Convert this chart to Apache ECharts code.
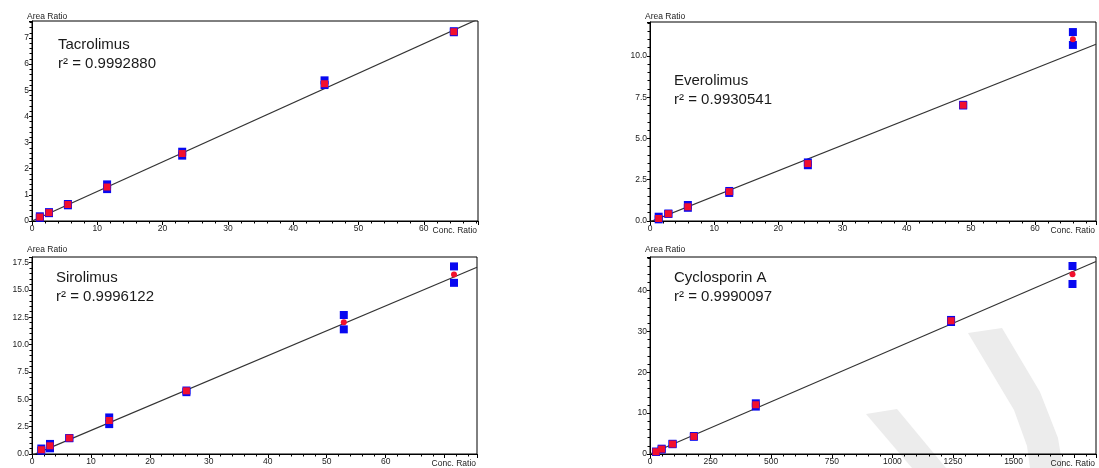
<!DOCTYPE html>
<html>
<head>
<meta charset="utf-8">
<script src="https://cdn.jsdelivr.net/npm/echarts@6/dist/echarts.min.js"></script>
<style>
html,body{margin:0;padding:0;background:#fff;}
#c{width:1099px;height:468px;}
</style>
</head>
<body>
<div id="c"></div>
<script>
// ---------- DATA ----------
// Tacrolimus
const tacNames = ['Tacrolimus', 'r\u00B2 = 0.9992880'];
const tacX     = [1.2, 2.6, 5.5, 11.5, 23.0, 44.8, 64.6];
const tacRep1  = [0.12, 0.30, 0.60, 1.40, 2.65, 5.38, 7.22];
const tacRep2  = [0.18, 0.34, 0.65, 1.22, 2.50, 5.20, 7.26];
const tacMean  = [0.15, 0.32, 0.63, 1.30, 2.58, 5.25, 7.24];
const tacCircleIdx = [];
const tacFit   = [[0, 0.0], [68.3, 7.72]];
const tacXTicks = ['0','10','20','30','40','50','60'];
const tacYTicks = ['0','1','2','3','4','5','6','7'];

// Everolimus
const eveNames = ['Everolimus', 'r\u00B2 = 0.9930541'];
const eveX     = [1.35, 2.86, 5.9, 12.35, 24.6, 48.8, 65.9];
const eveRep1  = [0.26, 0.43, 0.97, 1.70, 3.38, 7.00, 11.45];
const eveRep2  = [0.10, 0.45, 0.80, 1.82, 3.55, 7.04, 10.67];
const eveMean  = [0.15, 0.44, 0.86, 1.78, 3.48, 7.02, 11.01];
const eveCircleIdx = [6];
const eveFit   = [[0, -0.05], [69.5, 10.71]];
const eveXTicks = ['0','10','20','30','40','50','60'];
const eveYTicks = ['0.0','2.5','5.0','7.5','10.0'];

// Sirolimus
const sirNames = ['Sirolimus', 'r\u00B2 = 0.9996122'];
const sirX     = [1.58, 3.05, 6.33, 13.1, 26.2, 52.9, 71.6];
const sirRep1  = [0.50, 0.92, 1.46, 3.34, 5.80, 12.70, 17.14];
const sirRep2  = [0.30, 0.52, 1.44, 2.73, 5.65, 11.39, 15.64];
const sirMean  = [0.39, 0.75, 1.46, 3.06, 5.77, 12.03, 16.41];
const sirCircleIdx = [5, 6];
const sirFit   = [[0, -0.13], [75.5, 17.07]];
const sirXTicks = ['0','10','20','30','40','50','60'];
const sirYTicks = ['0.0','2.5','5.0','7.5','10.0','12.5','15.0','17.5'];

// Cyclosporin A
const cycNames = ['Cyclosporin A', 'r\u00B2 = 0.9990097'];
const cycX     = [24.7, 48, 93, 181, 436.6, 1242, 1743];
const cycRep1  = [0.50, 1.30, 2.50, 4.40, 11.60, 32.30, 46.00];
const cycRep2  = [0.60, 1.10, 2.40, 4.20, 12.40, 32.80, 41.60];
const cycMean  = [0.56, 1.20, 2.44, 4.30, 12.05, 32.60, 44.00];
const cycCircleIdx = [6];
const cycFit   = [[0, 0.0], [1840, 47.1]];
const cycXTicks = ['0','250','500','750','1000','1250','1500'];
const cycYTicks = ['0','10','20','30','40'];

const xAxisName = 'Conc. Ratio';
const yAxisName = 'Area Ratio';

// ---------- LAYOUT / STYLE ----------
const FONT = '"Liberation Sans", Arial, sans-serif';
const BLUE = '#0808f0';
const RED  = '#f2102e';

const panels = [
  {names: tacNames, x: tacX, r1: tacRep1, r2: tacRep2, m: tacMean, circ: tacCircleIdx, fit: tacFit,
   xt: tacXTicks, yt: tacYTicks, grid: {left: 32, top: 21, width: 446, height: 200},
   xMax: 68.3, yMax: 7.65, xInt: 10, yInt: 1, text: {left: 58, top: 36}, yname: {left: 27, top: 12}},
  {names: eveNames, x: eveX, r1: eveRep1, r2: eveRep2, m: eveMean, circ: eveCircleIdx, fit: eveFit,
   xt: eveXTicks, yt: eveYTicks, grid: {left: 650, top: 22, width: 446, height: 199},
   xMax: 69.5, yMax: 12.06, xInt: 10, yInt: 2.5, text: {left: 674, top: 72}, yname: {left: 645, top: 12}},
  {names: sirNames, x: sirX, r1: sirRep1, r2: sirRep2, m: sirMean, circ: sirCircleIdx, fit: sirFit,
   xt: sirXTicks, yt: sirYTicks, grid: {left: 32, top: 257, width: 445, height: 197},
   xMax: 75.5, yMax: 18.0, xInt: 10, yInt: 2.5, text: {left: 56, top: 269}, yname: {left: 27, top: 245}},
  {names: cycNames, x: cycX, r1: cycRep1, r2: cycRep2, m: cycMean, circ: cycCircleIdx, fit: cycFit,
   xt: cycXTicks, yt: cycYTicks, grid: {left: 650, top: 257, width: 446, height: 197},
   xMax: 1840, yMax: 48.2, xInt: 250, yInt: 10, text: {left: 674, top: 269}, yname: {left: 645, top: 245}}
];

const grids = [], xAxes = [], yAxes = [], series = [], titles = [];
const labelStyle = {fontFamily: FONT, fontSize: 8.5, color: '#222'};

function fmt(list) {
  return function (v) {
    for (const s of list) { if (Math.abs(parseFloat(s) - v) < 1e-6) return s; }
    return '';
  };
}

panels.forEach((p, i) => {
  grids.push(Object.assign({show: true, borderColor: '#000', borderWidth: 1, backgroundColor: 'transparent', containLabel: false, z: 1}, p.grid));
  xAxes.push({
    type: 'value', gridIndex: i, min: 0, max: p.xMax, interval: p.xInt,
    name: xAxisName, nameLocation: 'end', nameGap: 0,
    nameTextStyle: {fontFamily: FONT, fontSize: 8.5, color: '#222', align: 'right', verticalAlign: 'top', padding: [5, 1, 0, 0]},
    axisLine: {show: true, onZero: false, lineStyle: {color: '#000', width: 1}},
    axisTick: {show: true, length: 4, lineStyle: {color: '#000', width: 1}},
    minorTick: {show: true, splitNumber: 5, length: 2.5, lineStyle: {color: '#000', width: 1}},
    axisLabel: Object.assign({margin: 3, formatter: fmt(p.xt), showMaxLabel: false}, labelStyle),
    splitLine: {show: false}, minorSplitLine: {show: false}
  });
  yAxes.push({
    type: 'value', gridIndex: i, min: 0, max: p.yMax, interval: p.yInt,
    axisLine: {show: true, onZero: false, lineStyle: {color: '#000', width: 1}},
    axisTick: {show: true, length: 3, lineStyle: {color: '#000', width: 1}},
    minorTick: {show: true, splitNumber: 5, length: 2.5, lineStyle: {color: '#000', width: 1}},
    axisLabel: Object.assign({margin: 3, formatter: fmt(p.yt), showMaxLabel: false}, labelStyle),
    splitLine: {show: false}, minorSplitLine: {show: false}
  });
  titles.push({
    text: p.names.join('\n'), left: p.text.left, top: p.text.top, padding: 0,
    textStyle: {fontFamily: FONT, fontSize: 15, fontWeight: 'normal', color: '#1a1a1a', lineHeight: 18.5}
  });
  titles.push({
    text: yAxisName, left: p.yname.left, top: p.yname.top, padding: 0,
    textStyle: {fontFamily: FONT, fontSize: 8.5, fontWeight: 'normal', color: '#222'}
  });
  // regression line
  series.push({
    type: 'line', xAxisIndex: i, yAxisIndex: i, data: p.fit, symbol: 'none', clip: true,
    lineStyle: {color: '#333', width: 1.2}, z: 2, silent: true, animation: false
  });
  // replicates (blue squares)
  series.push({
    type: 'scatter', xAxisIndex: i, yAxisIndex: i, symbol: 'rect', symbolSize: 8,
    data: p.x.map((x, k) => [x, p.r1[k]]).concat(p.x.map((x, k) => [x, p.r2[k]])),
    itemStyle: {color: BLUE, opacity: 1}, z: 3, animation: false
  });
  // means (red)
  const circ = p.circ;
  series.push({
    type: 'scatter', xAxisIndex: i, yAxisIndex: i,
    symbol: (v, params) => circ.indexOf(params.dataIndex) >= 0 ? 'circle' : 'rect',
    symbolSize: (v, params) => circ.indexOf(params.dataIndex) >= 0 ? 6 : 7,
    data: p.x.map((x, k) => [x, p.m[k]]),
    itemStyle: {color: RED, opacity: 1}, z: 4, animation: false
  });
});

// light grey watermark shapes in the lower right (decoration of the source image)
const WM = '#ececec';
const graphic = [
  {type: 'polygon', z: -10, silent: true,
   shape: {points: [[968, 333], [1002, 328], [1040, 392], [1058, 438], [1063, 468], [1030, 468], [1027, 446], [1014, 410]]},
   style: {fill: WM}},
  {type: 'polygon', z: -10, silent: true,
   shape: {points: [[866, 414], [897, 409], [946, 468], [912, 468]]},
   style: {fill: WM}}
];

const chart = echarts.init(document.getElementById('c'), null, {renderer: 'canvas'});
chart.setOption({
  animation: false,
  backgroundColor: '#fff',
  title: titles,
  grid: grids,
  xAxis: xAxes,
  yAxis: yAxes,
  series: series,
  graphic: graphic
});
</script>
</body>
</html>
